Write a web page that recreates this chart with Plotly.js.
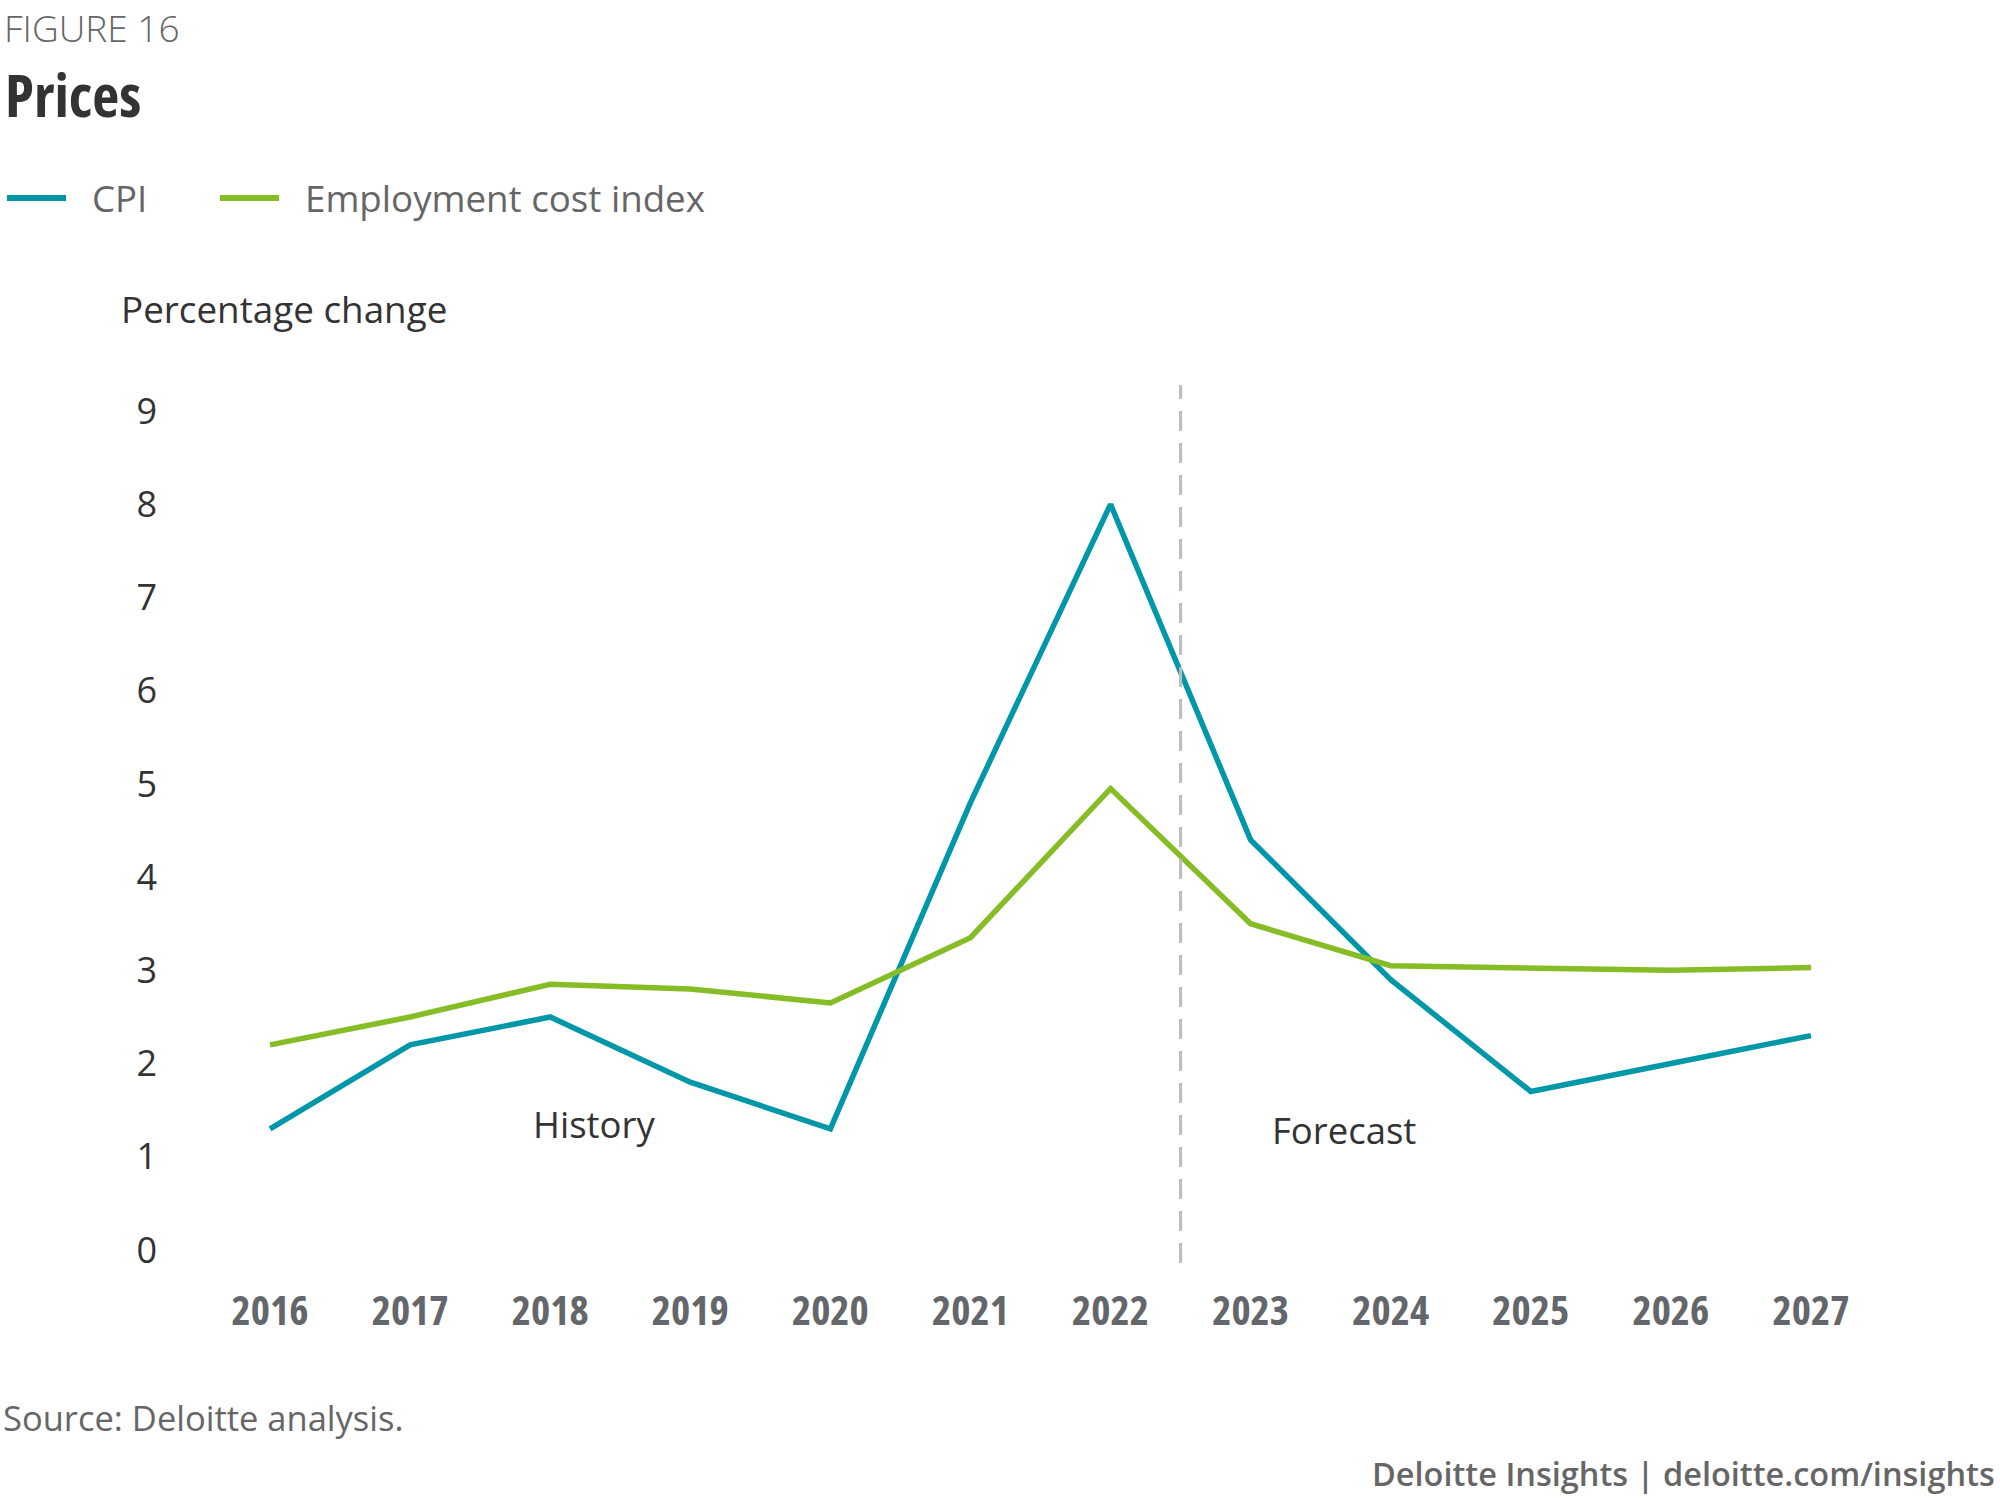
<!DOCTYPE html>
<html>
<head>
<meta charset="utf-8">
<script src="https://cdn.plot.ly/plotly-3.0.1.min.js"></script>
<style>
  html, body { margin: 0; padding: 0; background: #fff; }
  #chart { width: 2000px; height: 1501px; }
  .xtick text, .gtitle { font-stretch: 75% !important; }
</style>
</head>
<body>
<div id="chart"></div>
<script>
// ---- data ----
const years = [2016, 2017, 2018, 2019, 2020, 2021, 2022, 2023, 2024, 2025, 2026, 2027];
const yearLabels = ["2016", "2017", "2018", "2019", "2020", "2021", "2022", "2023", "2024", "2025", "2026", "2027"];
const cpi = [1.3, 2.2, 2.5, 1.8, 1.3, 4.8, 8.0, 4.4, 2.9, 1.7, 2.0, 2.3];
const eci = [2.2, 2.5, 2.85, 2.8, 2.65, 3.35, 4.95, 3.5, 3.05, 3.02, 3.0, 3.03];
const yTicks = [0, 1, 2, 3, 4, 5, 6, 7, 8, 9];
const seriesNames = ["CPI", "Employment cost index"];
const forecastStart = 2022.5;

// ---- layout geometry ----
const W = 2000, H = 1501;
const M = { l: 200, r: 119, t: 385, b: 238 };
const PW = W - M.l - M.r, PH = H - M.t - M.b;
const px = x => (x - M.l) / PW;          // pixel -> paper x
const py = y => (H - M.b - y) / PH;      // pixel -> paper y

const teal = "#0097a9", green = "#86bc25";
const regular = "Open Sans, sans-serif";

const traces = [
  { x: years, y: cpi, name: seriesNames[0], type: "scatter", mode: "lines",
    line: { color: teal, width: 5.5 }, hoverinfo: "skip" },
  { x: years, y: eci, name: seriesNames[1], type: "scatter", mode: "lines",
    line: { color: green, width: 5.5 }, hoverinfo: "skip" }
];

const ann = (text, x, y, opts) => Object.assign({
  text, xref: "paper", yref: "paper", x: px(x), y: py(y),
  xanchor: "left", yanchor: "middle", showarrow: false,
  font: { family: regular, size: 37, color: "#333333" }
}, opts || {});

const annotations = [
  ann("FIGURE 16", 3, 27, { borderpad: 0, font: { family: regular, size: 37, color: "#666666", weight: 300 } }),
  ann("CPI", 90, 198, { font: { family: regular, size: 36.5, color: "#666666" } }),
  ann(seriesNames[1], 303, 198, { font: { family: regular, size: 36.7, color: "#666666" } }),
  ann("Percentage change", 119, 309, { font: { family: regular, size: 36.8, color: "#333333" } }),
  ann("History", 594, 1124, { xanchor: "center", font: { family: regular, size: 36.5, color: "#333333" } }),
  ann("Forecast", 1344, 1130, { xanchor: "center", font: { family: regular, size: 36.5, color: "#333333" } }),
  ann("Source: Deloitte analysis.", 1, 1417, { font: { family: regular, size: 34.5, color: "#666666" } }),
  ann("Deloitte Insights | deloitte.com/insights", 1997, 1473,
      { xanchor: "right", font: { family: regular, size: 32.5, color: "#666666", weight: 600 } })
];

const shapes = [
  { type: "line", xref: "x", yref: "paper", x0: forecastStart, x1: forecastStart, y0: 0, y1: 1,
    line: { color: "#bdbdbd", width: 3, dash: "20px,12px" } },
  { type: "line", xref: "paper", yref: "paper", x0: px(7), x1: px(66), y0: py(198), y1: py(198),
    line: { color: teal, width: 6 } },
  { type: "line", xref: "paper", yref: "paper", x0: px(220), x1: px(279), y0: py(198), y1: py(198),
    line: { color: green, width: 6 } }
];

const layout = {
  width: W, height: H,
  margin: M,
  paper_bgcolor: "#ffffff", plot_bgcolor: "#ffffff",
  showlegend: false,
  title: {
    text: "Prices",
    xref: "container", yref: "container",
    x: 5 / W, xanchor: "left",
    y: 1 - 96 / H, yanchor: "middle",
    font: { family: regular, size: 59, color: "#333333", weight: 700 }
  },
  xaxis: {
    range: [2015.5, 2027.5],
    tickvals: years, ticktext: yearLabels,
    showgrid: false, zeroline: false, showline: false,
    ticks: "", ticklabelstandoff: 20,
    tickfont: { family: regular, size: 41, color: "#63666a", weight: 700 },
    fixedrange: true
  },
  yaxis: {
    range: [-0.14, 9.28],
    tickvals: yTicks, ticktext: yTicks.map(String),
    showgrid: false, zeroline: false, showline: false,
    ticks: "", ticklabelstandoff: 42,
    tickfont: { family: regular, size: 36, color: "#333333" },
    fixedrange: true
  },
  annotations, shapes
};

Plotly.newPlot("chart", traces, layout, { staticPlot: true, displayModeBar: false });
</script>
</body>
</html>
